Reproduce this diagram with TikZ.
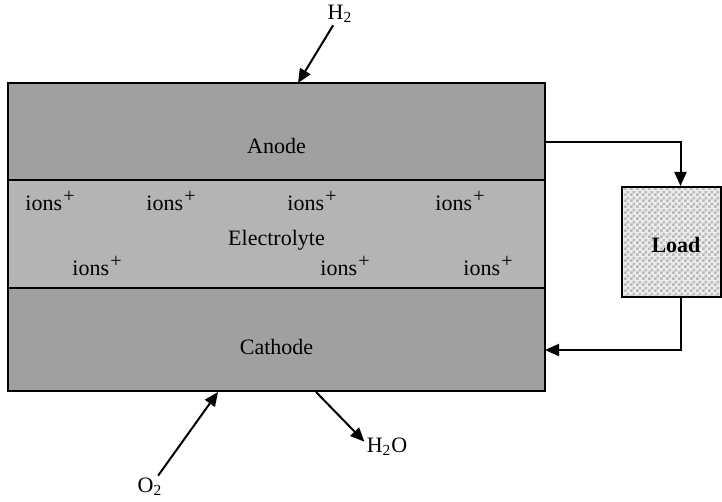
\documentclass[tikz,border=0pt]{standalone}
\usepackage{fontspec}
\setmainfont{Liberation Serif}
\usepackage{tikz}
\usetikzlibrary{arrows.meta,patterns}
\definecolor{electrode}{RGB}{160,160,160}
\definecolor{electrolyte}{RGB}{180,180,180}
\pgfdeclarepatternformonly{loadcheck}{\pgfqpoint{0pt}{0pt}}{\pgfqpoint{3pt}{3pt}}{\pgfqpoint{3pt}{3pt}}{%
	\pgfpathrectangle{\pgfqpoint{0pt}{0pt}}{\pgfqpoint{1.5pt}{1.5pt}}%
	\pgfpathrectangle{\pgfqpoint{1.5pt}{1.5pt}}{\pgfqpoint{1.5pt}{1.5pt}}%
	\pgfusepath{fill}}
\newcommand{\ionplus}{ions\kern0.6pt\raisebox{4pt}{\fontsize{10}{10}\selectfont+}}

\begin{document}
\begin{tikzpicture}[x=0.5pt,y=-0.5pt,
	layer/.style={shape=rectangle, draw, line width=1pt,
		minimum width=268.5pt, inner sep=0},
	txt/.style={inner sep=1pt, font=\fontsize{11}{13}\selectfont},
	flow/.style={line width=1pt, -{Triangle[length=7pt,width=6pt]}},
	loadbox/.style={shape=rectangle, draw, line width=1pt,
		minimum width=49.5pt, minimum height=55pt, inner sep=0,
		preaction={fill=gray!15}, pattern=loadcheck, pattern color=gray!55},
	]
	\useasboundingbox (0,0) rectangle (722,502);
	
	% cell
	\node[layer, fill=electrode, minimum height=48.5pt] (anode) at (276.5,131.5) {};
	\node[layer, fill=electrolyte, minimum height=54pt] (elec) at (276.5,234) {};
	\node[layer, fill=electrode, minimum height=51.5pt] (cathode) at (276.5,339.5) {};
	\node[txt] (anodelbl) at (276.5,146) {Anode};
	\node[txt] (eleclbl) at (276.5,240) {Electrolyte};
	\node[txt] (cathodelbl) at (276.5,347) {Cathode};
	
	\foreach \x/\y [count=\k] in {50/201, 171/201, 312/201, 460/201, 97/266, 345/266, 488/266}{%
		\node[txt] (ion\k) at (\x,\y) {\ionplus};}
	
	% load
	\node[loadbox] (load) at (671.5,242) {};
	\node[txt, font=\fontsize{11}{13}\selectfont\bfseries] (loadlbl) at (676,245) {Load};
	\coordinate (aout) at (545,142);
	\coordinate (cin) at (545,350);
	\draw[flow] (aout) -| ([xshift=4.5pt]load.north);
	\draw[flow] ([xshift=4.5pt]load.south) |- (cin);
	
	% gases
	\node[txt] (h2) at (340,14) {H\textsubscript{2}};
	\node[txt] (o2) at (150,487) {O\textsubscript{2}};
	\node[txt] (h2o) at (387,447) {H\textsubscript{2}O};
	\coordinate (h2in) at (298,83);
	\coordinate (o2in) at (218,392);
	\coordinate (h2oout) at (316,392);
	\draw[flow] (h2) -- (h2in);
	\draw[flow] (o2) -- (o2in);
	\draw[flow] (h2oout) -- ([yshift=-3pt]h2o.north west);
\end{tikzpicture}
\end{document}
